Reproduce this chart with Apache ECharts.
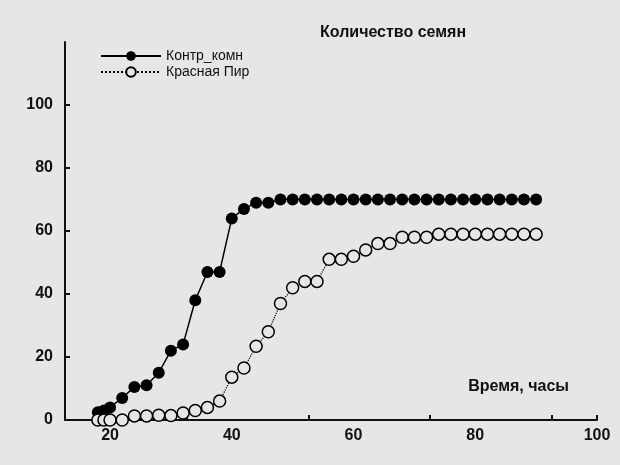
<!DOCTYPE html>
<html>
<head>
<meta charset="utf-8">
<script src="https://cdn.jsdelivr.net/npm/echarts@6/dist/echarts.min.js"></script>
<style>
html, body { margin: 0; padding: 0; background: #e6e6e6; }
#chart { width: 620px; height: 465px; }
</style>
</head>
<body>
<div id="chart"></div>
<script>
// часы
var hours = [18, 19, 20, 22, 24, 26, 28, 30, 32, 34, 36, 38, 40, 42, 44, 46, 48, 50, 52, 54, 56, 58, 60, 62, 64, 66, 68, 70, 72, 74, 76, 78, 80, 82, 84, 86, 88, 90];
var kontr = [2.5, 3, 4, 7, 10.5, 11, 15, 22, 24, 38, 47, 47, 64, 67, 69, 69, 70, 70, 70, 70, 70, 70, 70, 70, 70, 70, 70, 70, 70, 70, 70, 70, 70, 70, 70, 70, 70, 70];
var krasnaya = [0, 0, 0, 0, 1.3, 1.3, 1.5, 1.4, 2.2, 3, 4, 6, 13.6, 16.5, 23.4, 28, 37, 42, 44, 44, 51, 51, 52, 54, 56, 56, 58, 58, 58, 59, 59, 59, 59, 59, 59, 59, 59, 59];
var yTicks = [0, 20, 40, 60, 80, 100];

function pairs(xs, ys) {
    var out = [];
    for (var i = 0; i < xs.length; i++) {
        out.push([xs[i], ys[i]]);
    }
    return out;
}

var myChart = echarts.init(document.getElementById('chart'));

var option = {
    backgroundColor: '#e6e6e6',
    animation: false,
    title: {
        text: 'Количество семян',
        left: 315,
        top: 20,
        textStyle: { fontSize: 16, fontWeight: 'bold', color: '#111', fontFamily: 'Liberation Sans' }
    },
    legend: {
        left: 95,
        top: 44,
        orient: 'vertical',
        itemGap: 2,
        itemWidth: 60,
        itemHeight: 12,
        textStyle: { fontSize: 14, color: '#111', fontFamily: 'Liberation Sans' },
        data: ['Контр_комн', 'Красная Пир']
    },
    grid: { left: 65, right: 23, top: 42, bottom: 45 },
    xAxis: {
        type: 'value',
        min: 12.6,
        max: 100,
        interval: 20,
        axisLine: { lineStyle: { color: '#111', width: 2 } },
        axisTick: { lineStyle: { color: '#111', width: 2 }, length: 5, inside: true },
        splitLine: { show: false },
        axisLabel: {
            fontSize: 16, fontWeight: 'bold', color: '#111',
            customValues: [20, 40, 60, 80, 100]
        },
        name: 'Время, часы',
        nameLocation: 'end',
        nameGap: 0,
        nameTextStyle: { fontSize: 16, fontWeight: 'bold', color: '#111', align: 'right', verticalAlign: 'bottom', padding: [0, 28, 25, 0] }
    },
    yAxis: {
        type: 'value',
        min: 0,
        max: 120,
        interval: 20,
        axisLine: { show: true, lineStyle: { color: '#111', width: 2 } },
        axisTick: { show: true, inside: true, length: 5, lineStyle: { color: '#111', width: 2 }, customValues: yTicks },
        splitLine: { show: false },
        axisLabel: {
            fontSize: 16, fontWeight: 'bold', color: '#111', margin: 12,
            customValues: yTicks
        }
    },
    series: [{
        name: 'Контр_комн',
        type: 'line',
        data: pairs(hours, kontr),
        symbol: 'circle',
        symbolSize: 12,
        itemStyle: { color: '#000' },
        lineStyle: { color: '#000', width: 1.5 }
    }, {
        name: 'Красная Пир',
        type: 'line',
        data: pairs(hours, krasnaya),
        symbol: 'circle',
        symbolSize: 12,
        itemStyle: { color: '#e6e6e6', borderColor: '#000', borderWidth: 1.5 },
        lineStyle: { color: '#000', width: 1.2, type: 'dotted' }
    }]
};

myChart.setOption(option);
</script>
</body>
</html>
